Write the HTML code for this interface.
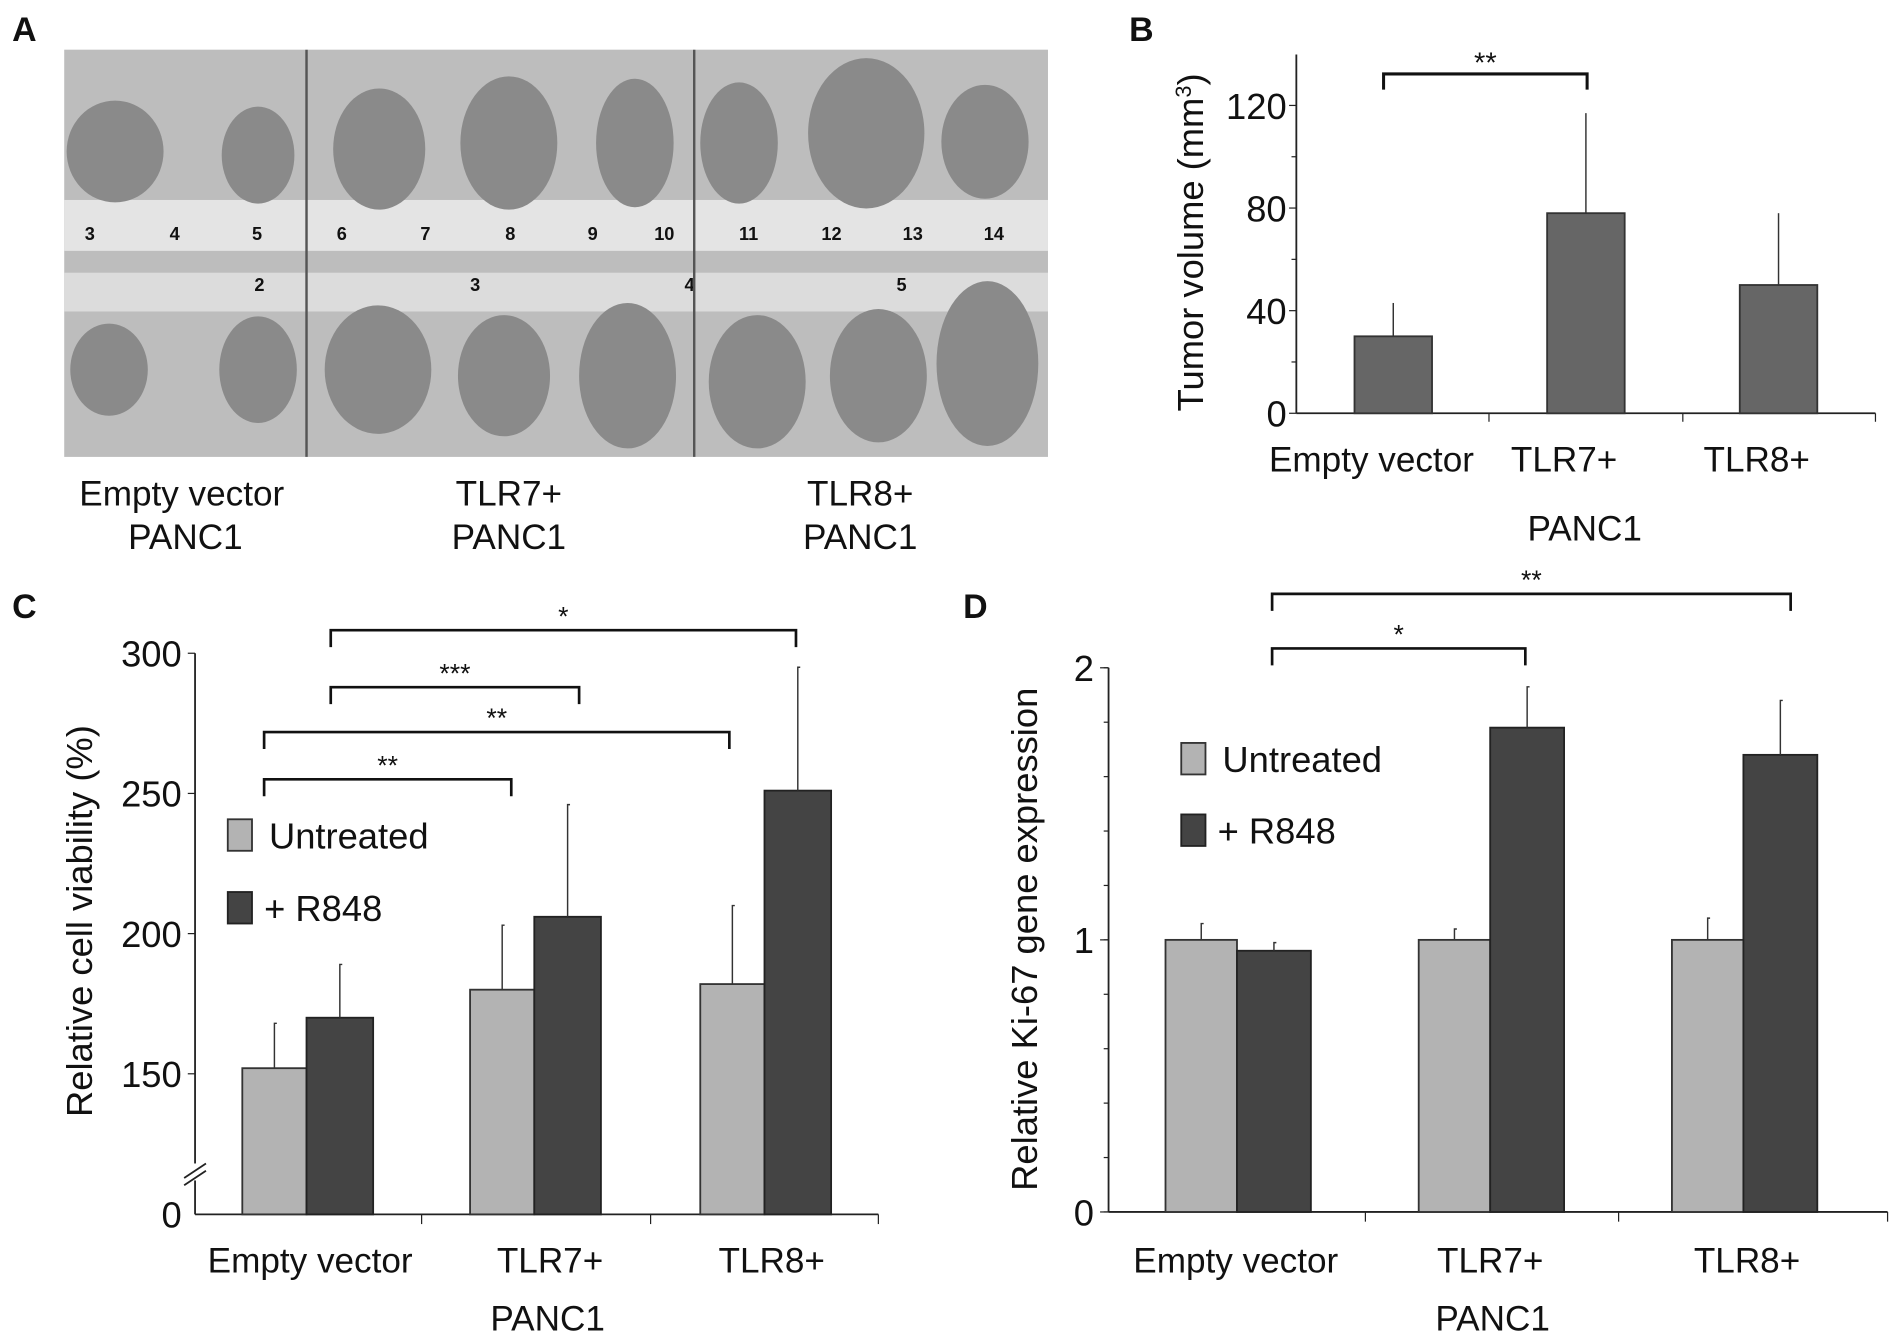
<!DOCTYPE html>
<html><head><meta charset="utf-8"><style>
html,body{margin:0;padding:0;background:#fff}
svg{display:block}
text{font-family:"Liberation Sans",sans-serif;fill:#111}
</style></head><body>
<svg id="fig" width="1890" height="1338" viewBox="0 0 1560 1104" preserveAspectRatio="none" xmlns="http://www.w3.org/2000/svg">
<g>
<text x="10" y="34" font-size="28" font-weight="bold">A</text>
<rect x="53" y="41" width="812" height="336" fill="#bdbdbd"/>
<rect x="53" y="165" width="812" height="42" fill="#e4e4e4"/>
<rect x="53" y="225" width="812" height="32" fill="#dcdcdc"/>
<g fill="#8a8a8a">
<ellipse cx="95" cy="125" rx="40" ry="42"/><ellipse cx="213" cy="128" rx="30" ry="40"/>
<ellipse cx="313" cy="123" rx="38" ry="50"/><ellipse cx="420" cy="118" rx="40" ry="55"/><ellipse cx="524" cy="118" rx="32" ry="53"/>
<ellipse cx="610" cy="118" rx="32" ry="50"/><ellipse cx="715" cy="110" rx="48" ry="62"/><ellipse cx="813" cy="117" rx="36" ry="47"/>
<ellipse cx="90" cy="305" rx="32" ry="38"/><ellipse cx="213" cy="305" rx="32" ry="44"/>
<ellipse cx="312" cy="305" rx="44" ry="53"/><ellipse cx="416" cy="310" rx="38" ry="50"/><ellipse cx="518" cy="310" rx="40" ry="60"/>
<ellipse cx="625" cy="315" rx="40" ry="55"/><ellipse cx="725" cy="310" rx="40" ry="55"/><ellipse cx="815" cy="300" rx="42" ry="68"/>
</g>
<g font-size="15" font-weight="bold" fill="#333">
<text x="70" y="198">3</text><text x="140" y="198">4</text><text x="208" y="198">5</text><text x="278" y="198">6</text><text x="347" y="198">7</text><text x="417" y="198">8</text><text x="485" y="198">9</text><text x="540" y="198">10</text><text x="610" y="198">11</text><text x="678" y="198">12</text><text x="745" y="198">13</text><text x="812" y="198">14</text>
<text x="210" y="240">2</text><text x="388" y="240">3</text><text x="565" y="240">4</text><text x="740" y="240">5</text>
</g>
<line x1="253" y1="41" x2="253" y2="377" stroke="#555" stroke-width="2"/>
<line x1="573" y1="41" x2="573" y2="377" stroke="#555" stroke-width="2"/>
<g font-size="29" text-anchor="middle">
<text x="150" y="417">Empty vector</text><text x="153" y="453">PANC1</text>
<text x="420" y="417">TLR7+</text><text x="420" y="453">PANC1</text>
<text x="710" y="417">TLR8+</text><text x="710" y="453">PANC1</text>
</g>
</g>
<g id="panelB"><text x="932" y="34" font-size="28" font-weight="bold">B</text></g>
<g id="panelC"><text x="10" y="510" font-size="28" font-weight="bold">C</text></g>
<g id="panelD"><text x="795" y="510" font-size="28" font-weight="bold">D</text></g>
</svg>
<script>
// Panel B data
const bCategories = ["Empty vector","TLR7+","TLR8+"];
const bValues = [30,78,50];
const bErrors = [43,117,78];
const bTicks = [0,40,80,120];
// Panel C data
const cCategories = ["Empty vector","TLR7+","TLR8+"];
const cUntreated = [152,180,182];
const cR848 = [170,206,251];
const cUntreatedErr = [168,203,210];
const cR848Err = [189,246,295];
const cTicks = [150,200,250,300];
// Panel D data
const dCategories = ["Empty vector","TLR7+","TLR8+"];
const dUntreated = [1.0,1.0,1.0];
const dR848 = [0.96,1.78,1.68];
const dUntreatedErr = [1.06,1.04,1.08];
const dR848Err = [0.99,1.93,1.88];
const dTicks = [0,1,2];

const NS="http://www.w3.org/2000/svg";
function mk(parent,tag,attrs,txt){const e=document.createElementNS(NS,tag);for(const k in attrs)e.setAttribute(k,attrs[k]);if(txt!==undefined)e.textContent=txt;parent.appendChild(e);return e;}

// ---------- Panel B ----------
(function(){
const g=document.getElementById('panelB');
const y=v=>341-v*(254/120);
const x0=1070, step=159, first=1150, bw=64;
let ax=mk(g,'line',{x1:x0,y1:45,x2:x0,y2:341,stroke:'#222','stroke-width':1.5});


let xa=mk(g,'line',{x1:x0,y1:341,x2:1548,y2:341,stroke:'#222','stroke-width':1.5});


[1229,1389,1548].forEach(px=>{mk(g,'line',{x1:px,y1:341,x2:px,y2:348,stroke:'#222'});});
bTicks.forEach(t=>{
 mk(g,'line',{x1:x0-6,y1:y(t),x2:x0,y2:y(t),stroke:'#222'});
 if(t<120)mk(g,'line',{x1:x0-4,y1:y(t+20),x2:x0,y2:y(t+20),stroke:'#222'});
 const l=mk(g,'text',{x:x0-8,y:y(t)+11,'font-size':30,'text-anchor':'end'},t);
 
 
});
bValues.forEach((v,i)=>{
 const cx=first+i*step;
 const r=mk(g,'rect',{x:cx-bw/2,y:y(v),width:bw,height:y(0)-y(v),fill:'#666',stroke:'#333','stroke-width':1.5});
 
 
 const e=mk(g,'line',{x1:cx,y1:y(v),x2:cx,y2:y(bErrors[i]),stroke:'#333','stroke-width':1.2});
 
 
 const l=mk(g,'text',{x:cx-18,y:389,'font-size':29,'text-anchor':'middle'},bCategories[i]);
 
 
});
const t=mk(g,'text',{x:1308,y:446,'font-size':29,'text-anchor':'middle'},'PANC1');


const yt=mk(g,'text',{x:0,y:0,'font-size':30,'text-anchor':'middle',transform:'translate(993,200) rotate(-90)'});


yt.innerHTML='Tumor volume (mm<tspan dy="-10" font-size="18">3</tspan><tspan dy="10">)</tspan>';
mk(g,'path',{d:'M1142 74 V61 H1310 V74',fill:'none',stroke:'#111','stroke-width':2.5});
const s=mk(g,'text',{x:1226,y:60,'font-size':24,'text-anchor':'middle'},'**');


})();

function grouped(g,opts){
 const {y,x0,xEnd,yZero,yTop,dividers,centers,bw,cats,u,r,ue,re,ticks,tickFmt}=opts;
 let ax=mk(g,'line',{x1:x0,y1:yTop,x2:x0,y2:yZero,stroke:'#222','stroke-width':1.5});
 
 
 let xa=mk(g,'line',{x1:x0,y1:yZero,x2:xEnd,y2:yZero,stroke:'#222','stroke-width':1.5});
 
 
 dividers.forEach(px=>mk(g,'line',{x1:px,y1:yZero,x2:px,y2:yZero+8,stroke:'#222'}));
 cats.forEach((c,i)=>{
  const cx=centers[i];
  const r1=mk(g,'rect',{x:cx-bw,y:y(u[i]),width:bw,height:yZero-y(u[i]),fill:'#b3b3b3',stroke:'#333','stroke-width':1.5});
  
  
  const r2=mk(g,'rect',{x:cx,y:y(r[i]),width:bw+2,height:yZero-y(r[i]),fill:'#444',stroke:'#222','stroke-width':1.5});
  
  
  const e1=mk(g,'path',{d:`M${cx-bw/2} ${y(u[i])}V${y(ue[i])}h2`,fill:'none',stroke:'#333','stroke-width':1.2});
  
  
  const e2=mk(g,'path',{d:`M${cx+bw/2+1} ${y(r[i])}V${y(re[i])}h2`,fill:'none',stroke:'#333','stroke-width':1.2});
  
  
 });
}
function legend(g,x,y1,y2){
 const a=mk(g,'rect',{x:x,y:y1-14,width:20,height:26,fill:'#b3b3b3',stroke:'#333','stroke-width':1.5});
 
 
 const at=mk(g,'text',{x:x+34,y:y1+10,'font-size':30},'Untreated');
 
 
 const b=mk(g,'rect',{x:x,y:y2-14,width:20,height:26,fill:'#444',stroke:'#222','stroke-width':1.5});
 
 
 const bt=mk(g,'text',{x:x+30,y:y2+10,'font-size':30},'+ R848');
 
 
}
function bracket(g,x1,x2,yy,label){
 const p=mk(g,'path',{d:`M${x1} ${yy+14}V${yy}H${x2}V${yy+14}`,fill:'none',stroke:'#111','stroke-width':2.2});
 
 
 const t=mk(g,'text',{x:(x1+x2)/2,y:yy-4,'font-size':22,'text-anchor':'middle'},label);
 
 
}

// ---------- Panel C ----------
(function(){
const g=document.getElementById('panelC');
const y=v=>886-(v-150)*(347/150);
grouped(g,{y,x0:161,xEnd:725,yZero:1002,yTop:539,dividers:[348,537,725],centers:[253,441,631],bw:53,cats:cCategories,u:cUntreated,r:cR848,ue:cUntreatedErr,re:cR848Err});
cTicks.forEach(t=>{
 mk(g,'line',{x1:155,y1:y(t),x2:161,y2:y(t),stroke:'#222'});
 const l=mk(g,'text',{x:150,y:y(t)+11,'font-size':30,'text-anchor':'end'},t);
 
 
});
const z=mk(g,'text',{x:150,y:1013,'font-size':30,'text-anchor':'end'},'0');


mk(g,'rect',{x:152,y:960,width:18,height:14,fill:'#fff'});
mk(g,'path',{d:'M152 972 L170 960 M152 978 L170 966',stroke:'#222','stroke-width':1.5});
cCategories.forEach((c,i)=>{
 const l=mk(g,'text',{x:[256,454,637][i],y:1050,'font-size':29,'text-anchor':'middle'},c);
 
 
});
const t=mk(g,'text',{x:452,y:1098,'font-size':29,'text-anchor':'middle'},'PANC1');


const yt=mk(g,'text',{x:0,y:0,'font-size':30,'text-anchor':'middle',transform:'translate(76,760) rotate(-90)'},'Relative cell viability (%)');


legend(g,188,690,750);
bracket(g,218,422,643,'**');
bracket(g,218,602,604,'**');
bracket(g,273,478,567,'***');
bracket(g,273,657,520,'*');
})();

// ---------- Panel D ----------
(function(){
const g=document.getElementById('panelD');
const y=v=>1000-v*224.5;
grouped(g,{y,x0:915,xEnd:1558,yZero:1000,yTop:551,dividers:[1127,1336,1558],centers:[1021,1230,1439],bw:59,cats:dCategories,u:dUntreated,r:dR848,ue:dUntreatedErr,re:dR848Err});
for(let k=0;k<=10;k++){mk(g,'line',{x1:911,y1:y(k*0.2),x2:915,y2:y(k*0.2),stroke:'#222'});}
dTicks.forEach(t=>{
 mk(g,'line',{x1:908,y1:y(t),x2:915,y2:y(t),stroke:'#222'});
 const l=mk(g,'text',{x:903,y:y(t)+11,'font-size':30,'text-anchor':'end'},t);
 
 
});
dCategories.forEach((c,i)=>{
 const l=mk(g,'text',{x:[1020,1230,1442][i],y:1050,'font-size':29,'text-anchor':'middle'},c);
 
 
});
const t=mk(g,'text',{x:1232,y:1098,'font-size':29,'text-anchor':'middle'},'PANC1');


const yt=mk(g,'text',{x:0,y:0,'font-size':30,'text-anchor':'middle',transform:'translate(856,775) rotate(-90)'},'Relative Ki-67 gene expression');


legend(g,975,627,686);
bracket(g,1050,1259,535,'*');
bracket(g,1050,1478,490,'**');
})();
</script>
</body></html>
